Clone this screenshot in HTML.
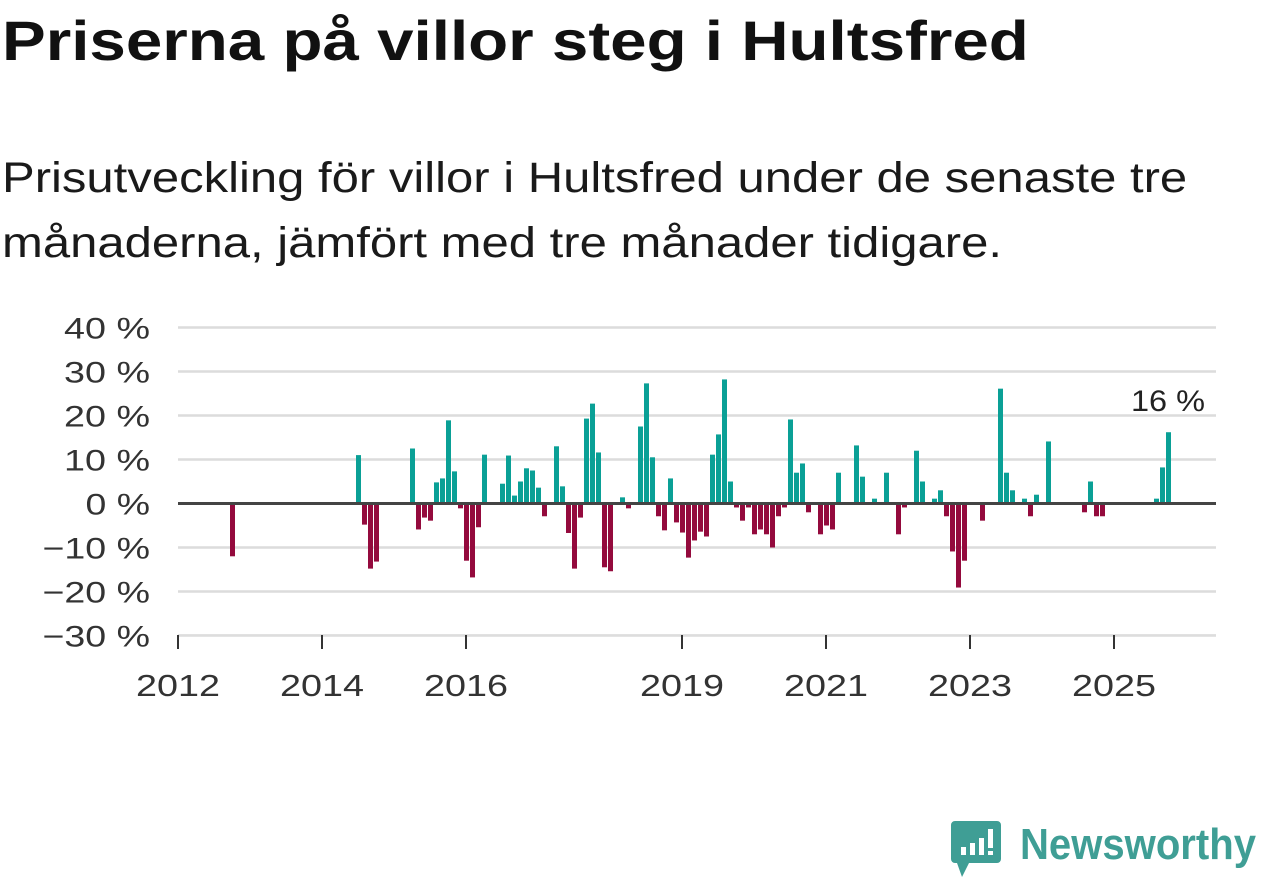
<!DOCTYPE html>
<html><head><meta charset="utf-8"><style>
body{margin:0;width:1262px;height:879px;background:#fff;overflow:hidden;font-family:"Liberation Sans","DejaVu Sans",sans-serif;}
#title{position:absolute;left:2px;top:8px;font-size:56px;font-weight:bold;color:#111;margin:0;white-space:nowrap;transform:scaleX(1.17);transform-origin:0 0}
#sub{position:absolute;left:2px;top:146px;font-size:43px;line-height:65px;color:#1a1a1a;white-space:nowrap;transform:scaleX(1.14);transform-origin:0 0}
svg{position:absolute;left:0;top:0}
</style></head><body>
<h1 id="title">Priserna på villor steg i Hultsfred</h1>
<div id="sub">Prisutveckling för villor i Hultsfred under de senaste tre<br>månaderna, jämfört med tre månader tidigare.</div>
<svg id="chart" width="1262" height="879"></svg>
<script>
const months=["2012-09","2014-06","2014-07","2014-08","2014-09","2015-03","2015-04","2015-05","2015-06","2015-07","2015-08","2015-09","2015-10","2015-11","2015-12","2016-01","2016-02","2016-03","2016-06","2016-07","2016-08","2016-09","2016-10","2016-11","2016-12","2017-01","2017-03","2017-04","2017-05","2017-06","2017-07","2017-08","2017-09","2017-10","2017-11","2017-12","2018-02","2018-03","2018-05","2018-06","2018-07","2018-08","2018-09","2018-10","2018-11","2018-12","2019-01","2019-02","2019-03","2019-04","2019-05","2019-06","2019-07","2019-08","2019-09","2019-10","2019-11","2019-12","2020-01","2020-02","2020-03","2020-04","2020-05","2020-06","2020-07","2020-08","2020-09","2020-11","2020-12","2021-01","2021-02","2021-05","2021-06","2021-08","2021-10","2021-12","2022-01","2022-03","2022-04","2022-06","2022-07","2022-08","2022-09","2022-10","2022-11","2023-02","2023-05","2023-06","2023-07","2023-09","2023-10","2023-11","2024-01","2024-07","2024-08","2024-09","2024-10","2025-07","2025-08","2025-09"];
const values=[-12,11,-4.8,-14.8,-13.2,12.5,-5.9,-3.2,-3.9,4.8,5.7,18.9,7.3,-1.1,-13,-16.8,-5.4,11.1,4.5,10.9,1.8,5,8,7.5,3.6,-2.9,13,3.9,-6.7,-14.8,-3.2,19.3,22.7,11.6,-14.5,-15.4,1.4,-1.1,17.5,27.3,10.5,-2.9,-6.1,5.7,-4.3,-6.6,-12.3,-8.4,-6.4,-7.5,11.1,15.7,28.2,5,-0.9,-3.9,-0.9,-7,-5.9,-7,-10,-2.9,-0.9,19.1,7,9.1,-2,-7,-5,-5.9,7,13.2,6.1,1.1,7,-7,-0.9,12,5,1.1,3,-2.9,-10.9,-19.1,-13,-3.9,26.1,7,3,1.1,-2.9,2,14.1,-2,5,-2.9,-2.9,1.1,8.2,16.2];
const yTicks=[40,30,20,10,0,-10,-20,-30];
const yTickLabels=["40 %","30 %","20 %","10 %","0 %","−10 %","−20 %","−30 %"];
const xTickYears=[2012,2014,2016,2019,2021,2023,2025];
const lastLabel="16 %";
const NS="http://www.w3.org/2000/svg";
const svg=document.getElementById('chart');
const x0=178,x1=1216;
function y(v){return 503.5-v*4.4;}
function xm(ym){const [a,b]=ym.split('-').map(Number);return x0+6*((a-2012)*12+(b-1))+4;}
function xy(yr){return x0+72*(yr-2012);}
function mk(t,a){const e=document.createElementNS(NS,t);for(const k in a)e.setAttribute(k,a[k]);svg.appendChild(e);return e;}
yTicks.forEach((v,i)=>{
 if(v!==0){const g=mk('line',{x1:x0,x2:x1,y1:y(v),y2:y(v),stroke:'#dcdcdc','stroke-width':2.5});
 
 }
 const lab=yTickLabels[i];
 const t=mk('text',{x:150,y:y(v)+11,'text-anchor':'end','font-size':30,fill:'#333','font-family':'Liberation Sans, sans-serif',textLength:lab.length*21.5,lengthAdjust:'spacingAndGlyphs'});
 t.textContent=lab;
 
 
});
const ax=mk('line',{x1:x0,x2:x1,y1:635,y2:635,stroke:'#ddd','stroke-width':1.5});


xTickYears.forEach(yr=>{
 const tk=mk('line',{x1:xy(yr),x2:xy(yr),y1:635,y2:649,stroke:'#333','stroke-width':2});
 
 
 const t=mk('text',{x:xy(yr)-42,y:696,'font-size':31,fill:'#333','font-family':'Liberation Sans, sans-serif',textLength:84,lengthAdjust:'spacingAndGlyphs'});
 t.textContent=yr;
 
 
});
months.forEach((m,i)=>{
 const v=values[i];
 const r=mk('rect',{x:xm(m),width:5,y:Math.min(y(v),y(0)),height:Math.abs(y(v)-y(0)),fill:v>=0?'#0aa096':'#940a3d'});
 
 
});
const z=mk('line',{x1:x0,x2:x1,y1:y(0),y2:y(0),stroke:'#444','stroke-width':3});


const lm=months[months.length-1];
const lt=mk('text',{x:xm(lm)-35,y:y(values[values.length-1])-21,'font-size':30,fill:'#222','font-family':'Liberation Sans, sans-serif',textLength:74,lengthAdjust:'spacingAndGlyphs'});
lt.textContent=lastLabel;


</script>
<svg width="1262" height="879">
<path d="M955 821 h42 a4 4 0 0 1 4 4 v34 a4 4 0 0 1 -4 4 h-28 l-7 14 l-5 -14 h-2 a4 4 0 0 1 -4 -4 v-34 a4 4 0 0 1 4 -4z" fill="#3f9e95"/>
<rect x="961" y="847" width="5" height="8" fill="#fff"/><rect x="970" y="843" width="5" height="12" fill="#fff"/><rect x="979" y="838" width="5" height="17" fill="#fff"/><rect x="988" y="829" width="5" height="19" fill="#fff"/><rect x="988" y="851" width="5" height="4" fill="#fff"/>
<text x="1020" y="859" font-size="44" font-weight="bold" fill="#3f9e95" font-family="Liberation Sans, sans-serif" textLength="236" lengthAdjust="spacingAndGlyphs">Newsworthy</text>
</svg>
</body></html>
